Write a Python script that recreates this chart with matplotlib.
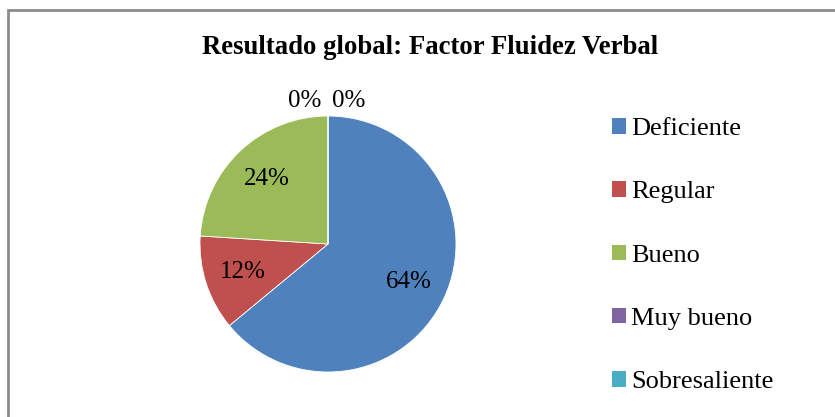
import matplotlib.pyplot as plt
from matplotlib.patches import Patch, Rectangle

# Datos del gráfico
categorias = ["Deficiente", "Regular", "Bueno", "Muy bueno", "Sobresaliente"]
porcentajes = [64, 12, 24, 0, 0]
colores = ["#4F81BD", "#C0504D", "#9BBB59", "#8064A2", "#4BACC6"]
titulo = "Resultado global: Factor Fluidez Verbal"

plt.rcParams['font.family'] = ['Liberation Serif', 'DejaVu Serif']

fig = plt.figure(figsize=(8.35, 4.17), dpi=100)

# Marco del gráfico (solo visibles borde izquierdo y superior)
fig.patches.append(Rectangle((7.5 / 835, -0.1), 1.2, (417 - 10) / 417 + 0.1,
                             transform=fig.transFigure, fill=False,
                             edgecolor="#8c8c8c", linewidth=2))

fig.text(430 / 835, 1 - 48 / 417, titulo, ha='center', va='center',
         fontsize=19.3, fontweight='bold')

# Eje del pastel: centro (328, 244), radio 128 px
ax = fig.add_axes([200 / 835, 45 / 417, 256 / 835, 256 / 417])
wedges, textos, pcts = ax.pie(porcentajes, colors=colores, startangle=90,
                              counterclock=False, radius=1,
                              autopct=lambda p: f"{p:.0f}%", pctdistance=0.7,
                              wedgeprops=dict(edgecolor='white', linewidth=0.6),
                              textprops=dict(fontsize=18))
ax.set_xlim(-1, 1)
ax.set_ylim(-1, 1)
ax.set_aspect('equal')

# Etiquetas de los sectores con 0% fuera del pastel
zeros = [i for i, v in enumerate(porcentajes) if v == 0]
for k, i in enumerate(zeros):
    desplaz = -0.18 if k == 0 else 0.16
    pcts[i].set_position((desplaz, 1.12))
    pcts[i].set_clip_on(False)

handles = [Patch(facecolor=c, edgecolor='none', label=l) for c, l in zip(colores, categorias)]
fig.legend(handles=handles, loc='upper left', bbox_to_anchor=(612 / 835, 1 - 118 / 417),
           frameon=False, fontsize=19, handlelength=0.53, handleheight=0.53,
           handletextpad=0.2, labelspacing=1.56, borderpad=0, borderaxespad=0)

fig.savefig("out.png", dpi=100)
